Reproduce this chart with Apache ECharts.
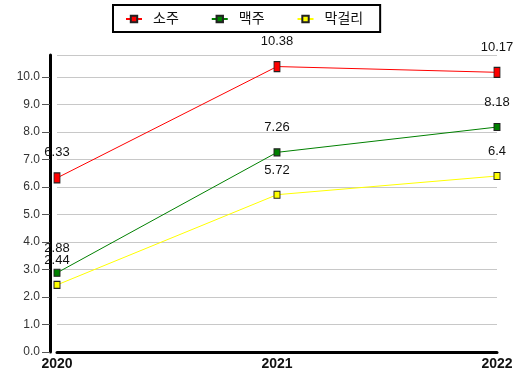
<!DOCTYPE html>
<html>
<head>
<meta charset="utf-8">
<script src="https://cdn.jsdelivr.net/npm/echarts@6/dist/echarts.min.js"></script>
<style>
  html, body { margin: 0; padding: 0; background: #fff; }
  #chart { width: 521px; height: 378px; }
</style>
</head>
<body>
<div id="chart"></div>
<script>
// Years on the x axis
const years = ['2020', '2021', '2022'];

// Series names and values
const seriesNames = ['소주', '맥주', '막걸리'];
const sojuValues = [6.33, 10.38, 10.17];
const beerValues = [2.88, 7.26, 8.18];
const makgeolliValues = [2.44, 5.72, 6.4];

// Y axis range
const yMin = 0;
const yMax = 10.8;
const yStep = 1;

const colors = ['#ff0000', '#008000', '#ffff00'];
const fontFamily = 'Arial, "Liberation Sans", "Noto Sans CJK KR", sans-serif';

function makeSeries(name, values, color, symbolSize, labelDistance) {
  return {
    name: name,
    type: 'line',
    data: values,
    symbol: 'rect',
    symbolSize: symbolSize,
    showAllSymbol: true,
    lineStyle: { color: color, width: 1 },
    itemStyle: { color: color, borderColor: '#222', borderWidth: 1 },
    label: {
      show: true,
      position: 'top',
      distance: labelDistance,
      color: '#111',
      fontSize: 13,
      fontFamily: fontFamily
    },
    emphasis: { disabled: true },
    animation: false,
    z: 1
  };
}

const chart = echarts.init(document.getElementById('chart'));
chart.setOption({
  animation: false,
  textStyle: { fontFamily: fontFamily },
  legend: {
    data: seriesNames,
    top: 5,
    left: 113,
    padding: [7, 17, 6, 12],
    itemGap: 32,
    itemWidth: 16,
    itemHeight: 8,
    borderColor: '#000',
    borderWidth: 2,
    backgroundColor: '#fff',
    textStyle: { color: '#111', fontSize: 14, fontFamily: fontFamily, padding: [0, 0, 0, 6] },
    z: 10
  },
  grid: {
    left: 57,
    right: 24,
    top: 55,
    bottom: 26,
    containLabel: false
  },
  xAxis: {
    type: 'category',
    data: years,
    boundaryGap: false,
    axisLine: { show: true, lineStyle: { color: '#000', width: 3 } },
    axisTick: { show: false },
    axisLabel: {
      color: '#111',
      fontSize: 14,
      fontWeight: 'bold',
      margin: 5,
      showMaxLabel: true,
      showMinLabel: true,
      fontFamily: fontFamily
    },
    splitLine: { show: false }
  },
  yAxis: {
    type: 'value',
    min: yMin,
    max: yMax,
    interval: yStep,
    offset: 7,
    axisLine: { show: true, lineStyle: { color: '#000', width: 3 } },
    axisTick: { show: true, length: 8, lineStyle: { color: '#555' } },
    axisLabel: {
      color: '#333',
      fontSize: 12,
      margin: 10,
      showMaxLabel: false,
      formatter: function (v) { return v.toFixed(1); },
      fontFamily: fontFamily
    },
    splitLine: { show: true, lineStyle: { color: '#c8c8c8', width: 1 } }
  },
  series: [
    makeSeries(seriesNames[0], sojuValues, colors[0], [6, 10], 13),
    makeSeries(seriesNames[1], beerValues, colors[1], [6, 7], 14),
    makeSeries(seriesNames[2], makgeolliValues, colors[2], [6, 7], 14)
  ]
});
</script>
</body>
</html>
